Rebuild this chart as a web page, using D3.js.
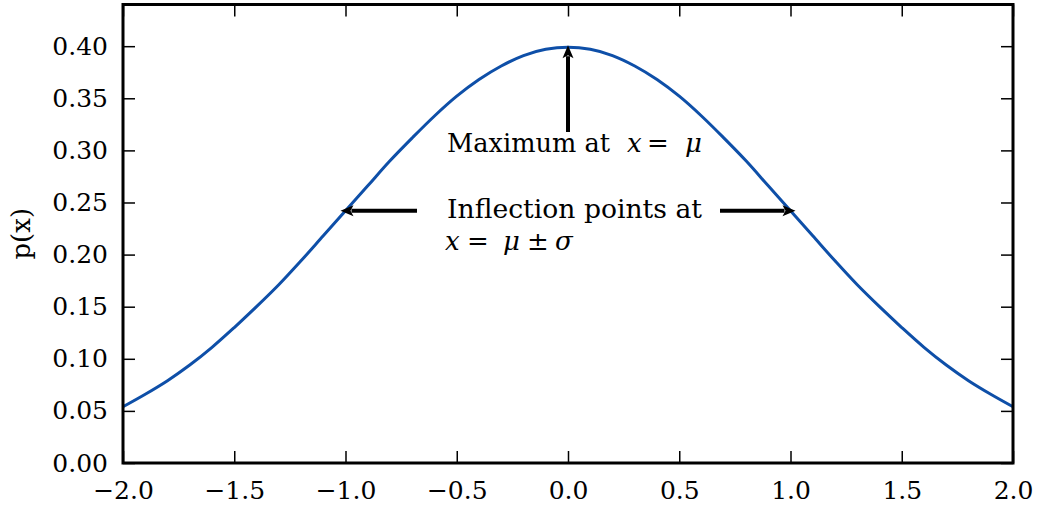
<!DOCTYPE html>
<html><head><meta charset="utf-8">
<script src="https://cdn.jsdelivr.net/npm/d3@7"></script>
<style>
body{margin:0;background:#fff;}
svg text{font-family:"DejaVu Serif",serif;fill:#000;}
</style></head>
<body><svg id="c" width="1042" height="507"></svg>
<script>
const xValues = [-2.0,-1.9,-1.8,-1.7,-1.6,-1.5,-1.4,-1.3,-1.2,-1.1,-1.0,-0.9,-0.8,-0.7,-0.6,-0.5,-0.4,-0.3,-0.2,-0.1,0.0,0.1,0.2,0.3,0.4,0.5,0.6,0.7,0.8,0.9,1.0,1.1,1.2,1.3,1.4,1.5,1.6,1.7,1.8,1.9,2.0];
const pValues = [0.054,0.066,0.079,0.094,0.111,0.130,0.150,0.171,0.194,0.218,0.242,0.266,0.290,0.312,0.333,0.352,0.368,0.381,0.391,0.397,0.399,0.397,0.391,0.381,0.368,0.352,0.333,0.312,0.290,0.266,0.242,0.218,0.194,0.171,0.150,0.130,0.111,0.094,0.079,0.066,0.054];
const xTicks = [-2.0,-1.5,-1.0,-0.5,0.0,0.5,1.0,1.5,2.0];
const yTicks = [0.00,0.05,0.10,0.15,0.20,0.25,0.30,0.35,0.40];
const xDomain = [-2, 2];
const yDomain = [0, 0.44];
const maxPoint = {x: 0, y: 0.399};
const inflLeft = {x: -1, y: 0.242};
const inflRight = {x: 1, y: 0.242};

const svg = d3.select("#c");
const L = 123, R = 1013, T = 4.5, B = 463;
const x = d3.scaleLinear().domain(xDomain).range([L, R]);
const y = d3.scaleLinear().domain(yDomain).range([B, T]);
const fmtX = d => (d < 0 ? "\u2212" : "") + Math.abs(d).toFixed(1);
const fmtY = d => d.toFixed(2);

// curve
const line = d3.line().x((d,i)=>x(xValues[i])).y(d=>y(d)).curve(d3.curveCatmullRom);
svg.append("path").datum(pValues).attr("d", line)
  .attr("fill","none").attr("stroke","#0e4fa8").attr("stroke-width",3);

// axes with inward ticks
const tl = 12;
const ax = (g, axis) => { g.call(axis); g.attr("font-family",null); g.select(".domain").remove(); g.selectAll(".tick line").attr("stroke","#000").attr("stroke-width",1.5); g.selectAll("text").attr("font-size",25); };
svg.append("g").attr("transform",`translate(0,${B})`).call(g=>ax(g, d3.axisBottom(x).tickValues(xTicks).tickFormat(fmtX).tickSizeInner(-tl).tickPadding(18)));
svg.append("g").attr("transform",`translate(0,${T})`).call(g=>ax(g, d3.axisTop(x).tickValues(xTicks).tickFormat("").tickSizeInner(-tl)));
svg.append("g").attr("transform",`translate(${L},0)`).call(g=>ax(g, d3.axisLeft(y).tickValues(yTicks).tickFormat(fmtY).tickSizeInner(-tl).tickPadding(15)));
svg.append("g").attr("transform",`translate(${R},0)`).call(g=>ax(g, d3.axisRight(y).tickValues(yTicks).tickFormat("").tickSizeInner(-tl)));
svg.selectAll(".tick text").attr("fill","#000");

// frame
svg.append("rect").attr("x",L).attr("y",T).attr("width",R-L).attr("height",B-T)
  .attr("fill","none").attr("stroke","#000").attr("stroke-width",3);

// y label
svg.append("text").attr("transform",`translate(30,${(T+B)/2}) rotate(-90)`)
  .attr("text-anchor","middle").attr("font-size",26).text("p(x)");

// arrows
function arrow(x1,y1,x2,y2){
  const dx=x2-x1, dy=y2-y1, len=Math.hypot(dx,dy), ux=dx/len, uy=dy/len;
  const hl=13, hw=5.5;
  const bx=x2-ux*hl, by=y2-uy*hl;
  svg.append("line").attr("x1",x1).attr("y1",y1).attr("x2",bx+ux*2).attr("y2",by+uy*2)
    .attr("stroke","#000").attr("stroke-width",4);
  svg.append("path").attr("d",`M${x2},${y2}L${bx-uy*hw},${by+ux*hw}L${bx+ux*3},${by+uy*3}L${bx+uy*hw},${by-ux*hw}Z`).attr("fill","#000");
}
arrow(x(maxPoint.x), 132, x(maxPoint.x), y(maxPoint.y)-2);
arrow(417, y(inflLeft.y), x(inflLeft.x)-5, y(inflLeft.y));
arrow(720, y(inflRight.y), x(inflRight.x)+5, y(inflRight.y));

// annotations
const fs = 26;
const t1 = svg.append("text").attr("y",152).attr("font-size",fs);
t1.append("tspan").attr("x",447).attr("textLength",163).attr("lengthAdjust","spacingAndGlyphs").text("Maximum at");
t1.append("tspan").attr("x",627).attr("font-style","italic").text("x");
t1.append("tspan").attr("x",647).text("=");
t1.append("tspan").attr("x",685).attr("font-style","italic").text("\u03BC");
svg.append("text").attr("x",447).attr("y",218).attr("font-size",fs)
  .attr("textLength",255).attr("lengthAdjust","spacingAndGlyphs").text("Inflection points at");
const t3 = svg.append("text").attr("y",250).attr("font-size",fs);
t3.append("tspan").attr("x",445).attr("font-style","italic").text("x");
t3.append("tspan").attr("x",467).text("=");
t3.append("tspan").attr("x",503).attr("font-style","italic").text("\u03BC");
t3.append("tspan").attr("x",527).text("\u00B1");
t3.append("tspan").attr("x",555).attr("font-style","italic").text("\u03C3");
</script></body></html>
